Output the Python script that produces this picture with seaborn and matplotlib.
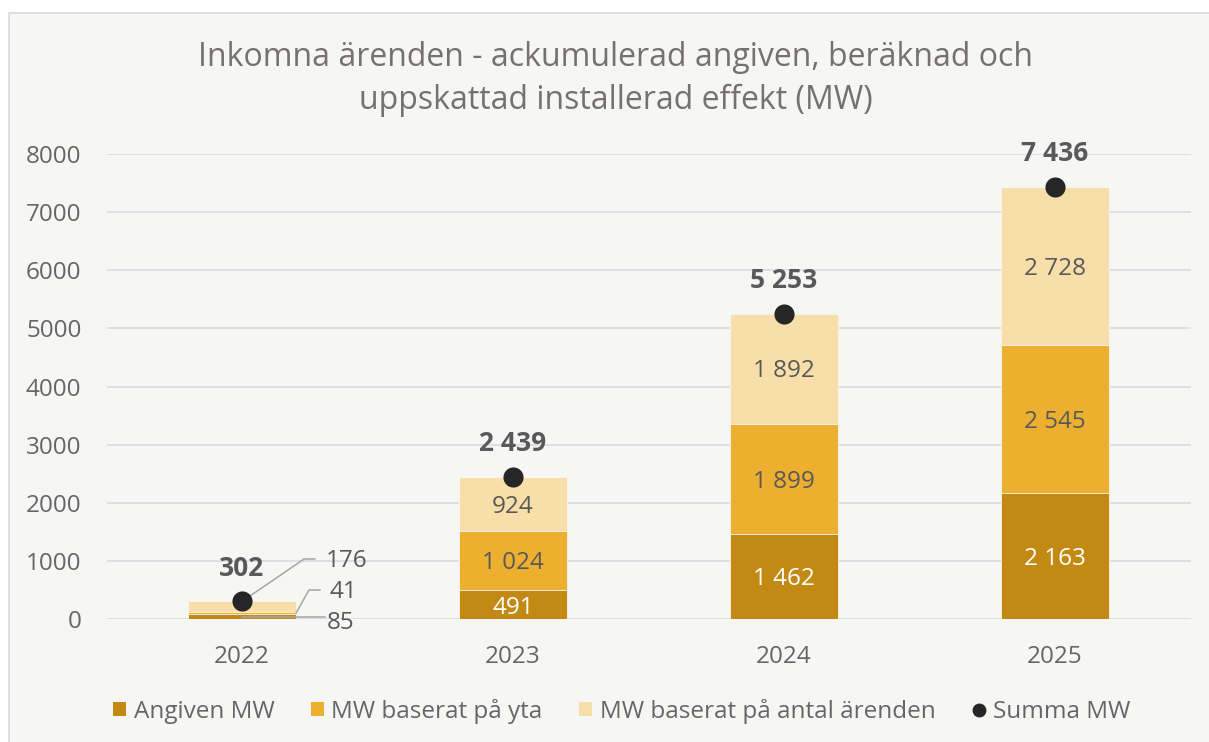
import matplotlib
matplotlib.use("Agg")
import matplotlib.pyplot as plt
import seaborn as sns
import pandas as pd
from matplotlib.patches import Patch, Rectangle
from matplotlib.lines import Line2D

plt.rcParams['font.family'] = ['Open Sans', 'DejaVu Sans']

years = ["2022", "2023", "2024", "2025"]
angiven = [85, 491, 1462, 2163]
yta = [41, 1024, 1899, 2545]
antal = [176, 924, 1892, 2728]
summa = [302, 2439, 5253, 7436]

series_names = ["Angiven MW", "MW baserat på yta", "MW baserat på antal ärenden", "Summa MW"]
colors = ["#C28A12", "#EDAF2F", "#F8DFA9", "#262626"]

df = pd.DataFrame({"year": years, "angiven": angiven, "yta": yta, "antal": antal, "summa": summa})
df["top2"] = df["angiven"] + df["yta"]
df["top3"] = df["top2"] + df["antal"]

def fmt(v):
    return f"{v:,}".replace(",", " ")

fig = plt.figure(figsize=(12.09, 7.42), dpi=100)
fig.patch.set_facecolor("white")
fig.patches.append(Rectangle((9 / 1209, -0.05), 1.1, 1 - 13 / 742 + 0.05, transform=fig.transFigure,
                             facecolor="#F6F6F4", edgecolor="#D9D9D9", linewidth=1.2, zorder=-10))

ax = fig.add_axes([106.5 / 1209, 1 - 619 / 742, (1190.5 - 106.5) / 1209, 465 / 742])
ax.set_facecolor("none")

# stacked bars drawn as overlaid cumulative totals
sns.barplot(data=df, x="year", y="top3", color=colors[2], width=0.4, saturation=1,
            edgecolor="#F6F6F4", linewidth=0.6, ax=ax, zorder=2)
sns.barplot(data=df, x="year", y="top2", color=colors[1], width=0.4, saturation=1,
            edgecolor="#F6F6F4", linewidth=0.6, ax=ax, zorder=2)
sns.barplot(data=df, x="year", y="angiven", color=colors[0], width=0.4, saturation=1,
            edgecolor="#F6F6F4", linewidth=0.6, ax=ax, zorder=2)
sns.stripplot(data=df, x="year", y="summa", jitter=False, size=14.5, color=colors[3],
              linewidth=0, ax=ax, zorder=6)

ax.set_xlim(-0.5, 3.5)
ax.set_ylim(0, 8000)
ax.set_yticks(range(0, 8001, 1000))
ax.grid(axis="y", color="#D9D9D9", linewidth=1.1, zorder=0)
ax.set_axisbelow(True)
for s in ax.spines.values():
    s.set_visible(False)
ax.tick_params(axis="both", length=0, labelsize=17.5, colors="#666666")
ax.tick_params(axis="y", pad=18)
ax.tick_params(axis="x", pad=19)
ax.set_xlabel("")
ax.set_ylabel("")

# segment labels (2023-2025)
def seg_label(x, y, v, col):
    ax.annotate(fmt(v), (x, y), xytext=(0, -2), textcoords="offset points", ha="center",
                va="center", fontsize=17.5, color=col, zorder=5)

for i in range(1, 4):
    a, b, c = angiven[i], yta[i], antal[i]
    seg_label(i, a / 2, a, "white")
    seg_label(i, a + b / 2, b, "#595959")
    seg_label(i, a + b + c / 2, c, "#595959")

# total labels
for i, v in enumerate(summa):
    ax.annotate(fmt(v), (i, v), xytext=(0, 24), textcoords="offset points", ha="center",
                va="center", fontsize=19, fontweight="bold", color="#595959", zorder=7)

# 2022 leader labels
lc = "#A6A6A6"
y176 = 1032
ax.plot([0, 0.229, 0.269], [summa[0], y176, y176], color=lc, lw=1.1, zorder=5)
ax.text(0.31, y176 - 30, fmt(antal[0]), ha="left", va="center", fontsize=17.5, color="#595959")
y41 = 499
mid41 = angiven[0] + yta[0] / 2
ax.plot([0.2, 0.247, 0.288], [mid41, y41, y41], color=lc, lw=1.1, zorder=5)
ax.text(0.322, y41 - 30, fmt(yta[0]), ha="left", va="center", fontsize=17.5, color="#595959")
ax.plot([0, 0.306], [angiven[0] / 2, angiven[0] / 2], color=lc, lw=1.1, zorder=5)
ax.text(0.312, -70, fmt(angiven[0]), ha="left", va="center", fontsize=17.5, color="#595959")

# title
fig.text(0.509, 1 - 57 / 742, "Inkomna ärenden - ackumulerad angiven, beräknad och",
         ha="center", va="center", fontsize=23, color="#767171")
fig.text(0.509, 1 - 100 / 742, "uppskattad installerad effekt (MW)",
         ha="center", va="center", fontsize=23, color="#767171")

handles = [Patch(facecolor=colors[0]), Patch(facecolor=colors[1]), Patch(facecolor=colors[2]),
           Line2D([], [], marker="o", linestyle="none", color=colors[3], markersize=9)]
fig.legend(handles, series_names, loc="center", bbox_to_anchor=(0.514, 1 - 711 / 742), ncol=4,
           frameon=False, fontsize=17.5, labelcolor="#666666", handlelength=0.55, handleheight=0.55,
           handletextpad=0.3, columnspacing=1.5)

fig.savefig("out.png", dpi=100, facecolor=fig.get_facecolor())
